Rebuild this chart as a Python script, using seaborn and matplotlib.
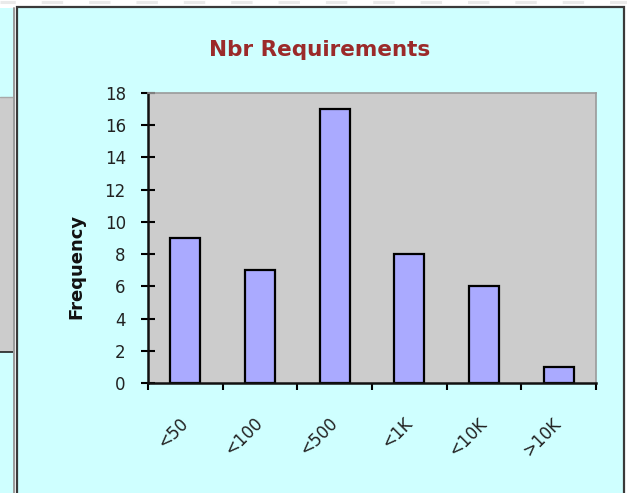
import matplotlib
matplotlib.use("Agg")
import matplotlib.pyplot as plt
import seaborn as sns
from matplotlib.patches import Rectangle
from matplotlib.lines import Line2D
from matplotlib.ticker import FixedLocator

# Chart data
categories = ["<50", "<100", "<500", "<1K", "<10K", ">10K"]
frequency = [9, 7, 17, 8, 6, 1]
y_ticks = [0, 2, 4, 6, 8, 10, 12, 14, 16, 18]
title = "Nbr Requirements"
y_label = "Frequency"

sns.set_theme(style="white")
plt.rcParams["font.family"] = ["DejaVu Sans"]

W, H = 627, 493
CYAN = "#CFFFFF"
PLOT_GRAY = "#CCCCCC"


def rect(x0, y0, x1, y1, **kw):
    """Rectangle given in pixel coordinates measured from the top-left corner."""
    return Rectangle((x0 / W, 1 - y1 / H), (x1 - x0) / W, (y1 - y0) / H,
                     transform=fig.transFigure, zorder=-5, **kw)


def hline(x0, x1, y, **kw):
    return Line2D([x0 / W, x1 / W], [1 - y / H, 1 - y / H],
                  transform=fig.transFigure, zorder=-4, **kw)


def vline(x, y0, y1, **kw):
    return Line2D([x / W, x / W], [1 - y0 / H, 1 - y1 / H],
                  transform=fig.transFigure, zorder=-4, **kw)


fig = plt.figure(figsize=(W / 100, H / 100), dpi=100, facecolor="white")

# Faint page gridline along the top edge
fig.add_artist(hline(0, W, 1.5, color="#EAEAEA", lw=2.2,
                     linestyle=(2, (7, 8.5)), solid_capstyle="butt"))

# Neighbouring chart on the left edge
fig.add_artist(rect(0, 8, 14, H, facecolor=CYAN, edgecolor="none"))
fig.add_artist(rect(0, 97, 13, 352, facecolor=PLOT_GRAY, edgecolor="none"))
fig.add_artist(hline(0, 13, 97, color="#A8A8A8", lw=1.0))
fig.add_artist(hline(0, 13, 352, color="#222222", lw=1.2))
fig.add_artist(vline(14, 8, H, color="#9A9A9A", lw=1.4))

# Main chart box
fig.add_artist(rect(17, 7.5, 623.5, H + 5, facecolor=CYAN,
                    edgecolor="#3A3A3A", lw=1.6))

# Plot area
ax = fig.add_axes([148 / W, 1 - 383 / H, 448 / W, 290 / H])
ax.set_zorder(2)
ax.set_facecolor(PLOT_GRAY)
sns.barplot(x=categories, y=frequency, color="#AAAAFF", saturation=1,
            edgecolor="black", linewidth=1.6, width=0.4, ax=ax)

ax.set_xlim(-0.5, len(categories) - 0.5)
ax.set_ylim(y_ticks[0], y_ticks[-1])
ax.set_yticks(y_ticks)
ax.set_yticklabels([str(t) for t in y_ticks], fontsize=12, color="#222222")
ax.set_xticks(range(len(categories)))
ax.set_xticklabels(categories, rotation=45, rotation_mode="anchor",
                   ha="right", va="center", fontsize=12, color="#222222")
ax.xaxis.set_minor_locator(FixedLocator([i - 0.5 for i in range(len(categories) + 1)]))
ax.set_xlabel("")
ax.set_ylabel("")

ax.tick_params(axis="x", which="major", bottom=True, length=0, pad=27)
ax.tick_params(axis="x", which="minor", bottom=True, length=5, width=1.5,
               direction="out", color="black")
ax.tick_params(axis="y", which="major", left=True, length=10, width=1.5,
               direction="inout", color="black", pad=11)

for side in ("left", "bottom"):
    ax.spines[side].set_color("#111111")
    ax.spines[side].set_linewidth(1.8)
for side in ("top", "right"):
    ax.spines[side].set_color("#9A9A9A")
    ax.spines[side].set_linewidth(1.2)
    ax.spines[side].set_visible(True)

# Title and axis label
fig.text(320 / W, 1 - 50 / H, title, ha="center", va="center",
         fontsize=15.5, fontweight="bold", color="#9B2A2A")
fig.text(76 / W, 1 - 266 / H, y_label, rotation=90, ha="center", va="center",
         fontsize=13, fontweight="bold", color="#111111")

fig.savefig("out.png", dpi=100, facecolor=fig.get_facecolor())
